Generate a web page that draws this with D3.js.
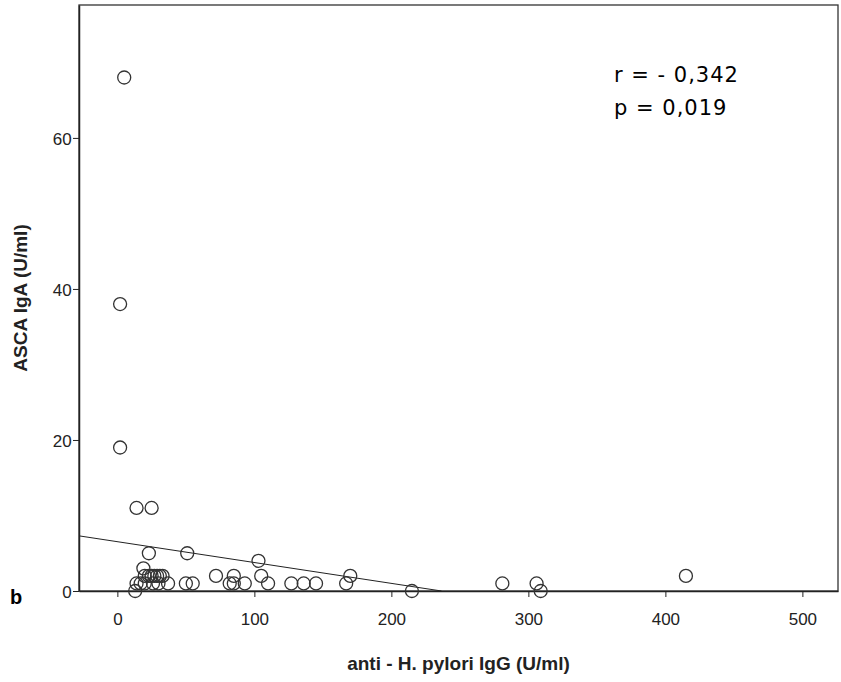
<!DOCTYPE html>
<html><head><meta charset="utf-8">
<script src="https://cdn.jsdelivr.net/npm/d3@7"></script>
<style>body{margin:0;background:#fff}svg text{font-family:"Liberation Sans",Arial,sans-serif}</style>
</head><body><svg id="c" width="841" height="682"></svg>
<script>
// data
var hpIgG = [5, 2, 2, 14, 25, 23, 51, 103, 19,
  20, 23, 25, 27, 29, 31, 33, 72, 85, 105, 170,
  14, 17, 20, 26, 30, 37, 50, 55, 82, 85, 93, 110, 127, 136, 145, 167,
  13, 215, 281, 306, 309, 415];
var ascaIgA = [68, 38, 19, 11, 11, 5, 5, 4, 3,
  2, 2, 2, 2, 2, 2, 2, 2, 2, 2, 2,
  1, 1, 1, 1, 1, 1, 1, 1, 1, 1, 1, 1, 1, 1, 1, 1,
  0, 0, 1, 1, 0, 2];
var xTicks = [0, 100, 200, 300, 400, 500];
var yTicks = [0, 20, 40, 60];
var fit = {a: 6.53, b: -0.0276};

var svg = d3.select("#c");
var L = 79, R = 838, T = 5, B = 591;
var x = d3.scaleLinear().domain([-28, 526]).range([L, R]);
var y = d3.scaleLinear().domain([0, 77.6]).range([B, T]);

svg.append("rect").attr("x", L).attr("y", T).attr("width", R - L).attr("height", B - T)
  .attr("fill", "none").attr("stroke", "#333").attr("stroke-width", 1.3);

var xa = svg.append("g").attr("transform", "translate(0," + B + ")")
  .call(d3.axisBottom(x).tickValues(xTicks).tickSize(6).tickSizeOuter(0));
var ya = svg.append("g").attr("transform", "translate(" + L + ",0)")
  .call(d3.axisLeft(y).tickValues(yTicks).tickSize(6).tickSizeOuter(0));
[xa, ya].forEach(function(g){
  g.select(".domain").attr("stroke", "#222").attr("stroke-width", 1.5);
  g.selectAll("line").attr("stroke", "#222");
  g.selectAll("text").attr("font-size", 17).attr("fill", "#222");
});
xa.selectAll("text").attr("dy", "1.45em");
ya.selectAll("text").attr("dx", "0.1em").attr("dy", "0.4em");

var x0 = -28, x1 = -fit.a / fit.b;
svg.append("line").attr("x1", x(x0)).attr("y1", y(fit.a + fit.b * x0))
  .attr("x2", x(x1)).attr("y2", y(0)).attr("stroke", "#222").attr("stroke-width", 1);

svg.append("g").selectAll("circle").data(hpIgG).enter().append("circle")
  .attr("cx", function(d){ return x(d); })
  .attr("cy", function(d, i){ return y(ascaIgA[i]); })
  .attr("r", 6.5).attr("fill", "none").attr("stroke", "#333").attr("stroke-width", 1.3);

svg.append("text").attr("x", 614).attr("y", 82).attr("font-size", 21)
  .style("font-family", "DejaVu Sans").attr("letter-spacing", 1).text("r = - 0,342");
svg.append("text").attr("x", 614).attr("y", 115).attr("font-size", 21)
  .style("font-family", "DejaVu Sans").attr("letter-spacing", 1).text("p = 0,019");
svg.append("text").attr("x", 10).attr("y", 604).attr("font-size", 20).attr("font-weight", "bold").text("b");
svg.append("text").attr("transform", "translate(27," + (B + T) / 2 + ") rotate(-90)")
  .attr("text-anchor", "middle").attr("font-size", 19).attr("font-weight", "bold").attr("fill", "#222")
  .text("ASCA IgA (U/ml)");
svg.append("text").attr("x", (L + R) / 2).attr("y", 670).attr("text-anchor", "middle")
  .attr("font-size", 19).attr("font-weight", "bold").attr("fill", "#222").text("anti - H. pylori IgG (U/ml)");
</script></body></html>
